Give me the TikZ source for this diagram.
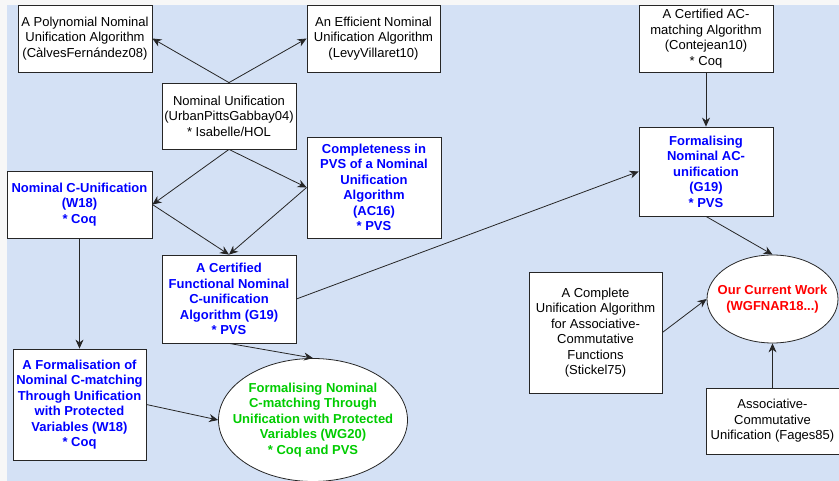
\documentclass[tikz,border=0pt]{standalone}
\usepackage{fontspec}
\setmainfont{Liberation Sans}
\usepackage{tikz}
\usetikzlibrary{arrows.meta, shapes.geometric}

\definecolor{sheet}{HTML}{D4E1F5}
\definecolor{margin}{HTML}{F7F7F7}
\definecolor{ours}{HTML}{0000FF}
\definecolor{newwork}{HTML}{00CC00}
\definecolor{current}{HTML}{FF0000}

\tikzset{
  paper/.style={draw=black!85, fill=white, thick, inner sep=0pt, align=center,
    font=\fontsize{13}{15.5}\selectfont},
  ownpaper/.style={paper, text=ours, font=\fontsize{13}{15.5}\selectfont\bfseries},
  bubble/.style={draw=black!85, fill=white, thick, ellipse, inner sep=0pt},
  label/.style={align=center, inner sep=0pt, font=\fontsize{13}{15.5}\selectfont\bfseries},
  cite/.style={-{Stealth[length=9pt, width=8pt]}, thick, draw=black!85},
}

\begin{document}
\begin{tikzpicture}[x=1pt, y=-1pt]
      \useasboundingbox (0, 0) rectangle (839, 481);
      \fill[margin] (0, 0) rectangle (839, 481);
      \fill[sheet] (7, 5) rectangle (839, 481);
      % nominal unification and its successors
      \node[paper, minimum width=134, minimum height=67] (poly) at (85, 38.5)
        {A Polynomial Nominal\\Unification Algorithm\\(CàlvesFernández08)};
      \node[paper, minimum width=133, minimum height=67] (eff) at (373.5, 38.5)
        {An Efficient Nominal\\Unification Algorithm\\(LevyVillaret10)};
      \node[paper, minimum width=134, minimum height=66] (nu) at (229, 116)
        {Nominal Unification\\(UrbanPittsGabbay04)\\* Isabelle/HOL};
      \node[ownpaper, minimum width=145, minimum height=67] (cuni) at (79.5, 204.5)
        {Nominal C-Unification\\(W18)\\* Coq};
      \node[ownpaper, minimum width=134, minimum height=101] (comp) at (374, 187.5)
        {Completeness in\\PVS of a Nominal\\Unification\\Algorithm\\(AC16)\\* PVS};
      \node[ownpaper, minimum width=134, minimum height=88] (func) at (229, 299)
        {A Certified\\Functional Nominal\\C-unification\\Algorithm (G19)\\* PVS};
      \node[ownpaper, minimum width=133, minimum height=111] (form) at (79.5, 404.5)
        {A Formalisation of\\Nominal C-matching\\Through Unification\\with Protected\\Variables (W18)\\* Coq};
      \node[bubble, minimum width=189, minimum height=123] (wg) at (313, 420) {};
      \node[label, text=newwork] (wgtext) at (wg)
        {Formalising Nominal\\C-matching Through\\Unification with Protected\\Variables (WG20)\\* Coq and PVS};
      % AC side
      \node[paper, minimum width=134, minimum height=67] (acm) at (706, 38.5)
        {A Certified AC-\\matching Algorithm\\(Contejean10)\\* Coq};
      \node[ownpaper, minimum width=134, minimum height=89] (acu) at (706, 171.5)
        {Formalising\\Nominal AC-\\unification\\(G19)\\* PVS};
      \node[paper, minimum width=133, minimum height=121] (stick) at (595.5, 332.5)
        {A Complete\\Unification Algorithm\\for Associative-\\Commutative\\Functions\\(Stickel75)};
      \node[bubble, minimum width=131, minimum height=88] (ocw) at (772.5, 299) {};
      \node[label, text=current] (ocwtext) at (ocw)
        {Our Current Work\\(WGFNAR18...)};
      \node[paper, minimum width=133, minimum height=66] (fages) at (772.5, 421)
        {Associative-\\Commutative\\Unification (Fages85)};
      \draw[cite] (nu.north) -- (poly.east);
      \draw[cite] (nu.north) -- (eff.west);
      \draw[cite] (nu.south) -- (cuni.east);
      \draw[cite] (nu.south) -- (comp.west);
      \draw[cite] (cuni.east) -- (func.north);
      \draw[cite] (comp.west) -- (func.north);
      \draw[cite] (cuni.south) -- (form.north);
      \draw[cite] (func.east) -- (acu.west);
      \draw[cite] (func.south) -- (wg.north);
      \draw[cite] (form.east) -- (wg.west);
      \draw[cite] (acm.south) -- (acu.north);
      \draw[cite] (acu.south) -- (ocw.north);
      \draw[cite] (stick.east) -- (ocw.west);
      \draw[cite] (fages.north) -- (ocw.south);
    \end{tikzpicture}
\end{document}
